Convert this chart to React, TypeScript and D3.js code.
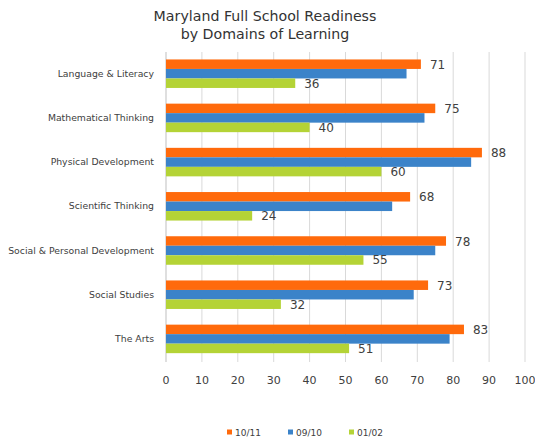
import React from 'react';
import * as d3 from 'd3';

// chart data
const categories = [
  'Language & Literacy',
  'Mathematical Thinking',
  'Physical Development',
  'Scientific Thinking',
  'Social & Personal Development',
  'Social Studies',
  'The Arts',
];
const seriesNames = ['10/11', '09/10', '01/02'];
const values1011 = [71, 75, 88, 68, 78, 73, 83];
const values0910 = [67, 72, 85, 63, 75, 69, 79];
const values0102 = [36, 40, 60, 24, 55, 32, 51];
const xTicks = [0, 10, 20, 30, 40, 50, 60, 70, 80, 90, 100];
// only these series show their values in the picture
const labelled = [true, false, true];

const colors = ['#ff6a0c', '#3b83c9', '#b4d336'];
const FONT = 'Verdana, "DejaVu Sans", sans-serif';

export default function App() {
  const width = 535;
  const height = 441;

  const x = d3.scaleLinear().domain([0, 100]).range([166, 525]);
  const y = d3.scaleBand<string>()
    .domain(categories)
    .range([51.6, 361])
    .paddingInner(0.355)
    .paddingOuter(0.1775);
  const inner = d3.scaleBand<string>()
    .domain(seriesNames)
    .range([0, y.bandwidth()]);

  const series = [values1011, values0910, values0102];

  return (
    <div style={{ position: 'absolute', left: 0, top: 0 }}>
      <svg width={width} height={height} style={{ display: 'block', background: '#fff' }}>
        {/* title */}
        <text x={265} y={21} textAnchor="middle" fontFamily={FONT} fontSize={14.2} fill="#333">
          Maryland Full School Readiness
        </text>
        <text x={265} y={39} textAnchor="middle" fontFamily={FONT} fontSize={14.2} fill="#333">
          by Domains of Learning
        </text>

        {/* grid */}
        {xTicks.map(t => (
          <line key={'g' + t} x1={x(t)} x2={x(t)} y1={52} y2={362}
            stroke={t === 0 ? '#bfbfbf' : '#d9d9d9'} strokeWidth={1} />
        ))}

        {/* bars */}
        {categories.map((c, ci) => (
          <g key={c} transform={`translate(0,${y(c)})`}>
            {seriesNames.map((s, si) => (
              <rect key={s}
                x={x(0)}
                y={inner(s)}
                width={x(series[si][ci]) - x(0)}
                height={inner.bandwidth()}
                fill={colors[si]} />
            ))}
            {seriesNames.map((s, si) => labelled[si] ? (
              <text key={'l' + s}
                x={x(series[si][ci]) + 9}
                y={(inner(s) as number) + inner.bandwidth() / 2 + 4.5}
                fontFamily={FONT} fontSize={12} fill="#404040">
                {series[si][ci]}
              </text>
            ) : null)}
          </g>
        ))}

        {/* category labels */}
        {categories.map(c => (
          <text key={'c' + c} x={154} y={(y(c) as number) + y.bandwidth() / 2 + 3}
            textAnchor="end" fontFamily={FONT} fontSize={9.3} fill="#404040">
            {c}
          </text>
        ))}

        {/* x axis labels */}
        {xTicks.map(t => (
          <text key={'t' + t} x={x(t)} y={384} textAnchor="middle"
            fontFamily={FONT} fontSize={11} fill="#404040">
            {t}
          </text>
        ))}

        {/* legend */}
        {seriesNames.map((s, i) => {
          const lx = [227, 288, 349][i];
          return (
            <g key={'lg' + s}>
              <rect x={lx} y={429.5} width={5} height={5} fill={colors[i]} />
              <text x={lx + 8} y={435.5} fontFamily={FONT} fontSize={9} fill="#404040">{s}</text>
            </g>
          );
        })}
      </svg>
    </div>
  );
}
